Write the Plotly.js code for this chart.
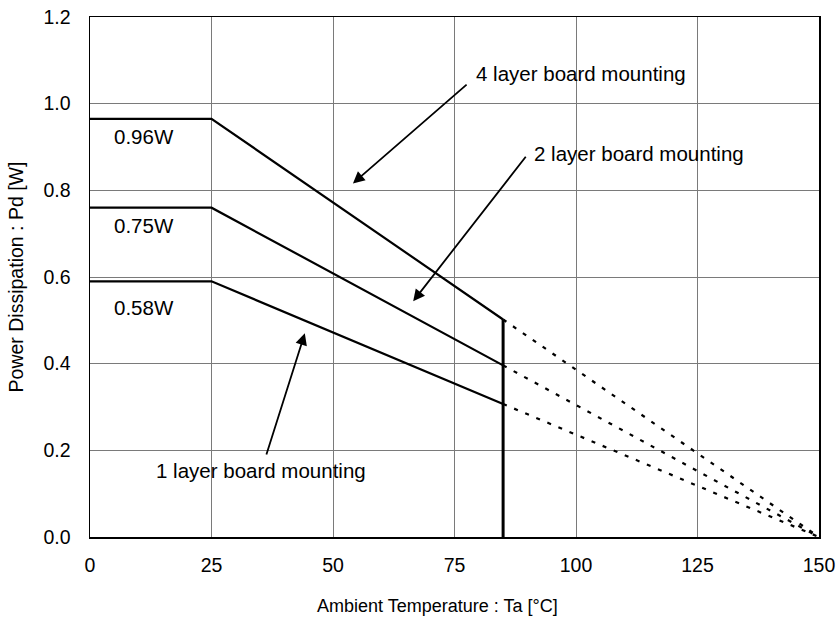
<!DOCTYPE html>
<html>
<head>
<meta charset="utf-8">
<script src="https://cdn.plot.ly/plotly-3.0.1.min.js"></script>
<style>html,body{margin:0;padding:0;background:#fff;}#chart{width:838px;height:618px;}</style>
</head>
<body>
<div id="chart"></div>
<script>
// Derating data (Ta in °C, Pd in W)
const tempSolid = [0, 25, 85];
const pd4Layer = [0.965, 0.965, 0.502];
const pd2Layer = [0.76, 0.76, 0.396];
const pd1Layer = [0.59, 0.59, 0.307];
const tempExt = [85, 150];
const pd4Ext = [0.502, 0];
const pd2Ext = [0.396, 0];
const pd1Ext = [0.307, 0];
const tempLimit = [85, 85];
const pdLimit = [0, 0.502];
const xTicks = [0, 25, 50, 75, 100, 125, 150];
const yTicks = [0, 0.2, 0.4, 0.6, 0.8, 1.0, 1.2];
const powerLabels = ["0.96W", "0.75W", "0.58W"];
const boardLabels = ["4 layer board mounting", "2 layer board mounting", "1 layer board mounting"];
const xTitle = 'Ambient Temperature : Ta [°C]';
const yTitle = 'Power Dissipation : Pd [W]';

const solid = {color: '#000', width: 2.2};
const dashed = {color: '#000', width: 2.2, dash: '4px,8px'};
const traces = [
  {x: tempSolid, y: pd4Layer, mode: 'lines', line: solid},
  {x: tempSolid, y: pd2Layer, mode: 'lines', line: solid},
  {x: tempSolid, y: pd1Layer, mode: 'lines', line: solid},
  {x: tempExt, y: pd4Ext, mode: 'lines', line: dashed},
  {x: tempExt, y: pd2Ext, mode: 'lines', line: dashed},
  {x: tempExt, y: pd1Ext, mode: 'lines', line: dashed},
  {x: tempLimit, y: pdLimit, mode: 'lines', line: {color: '#000', width: 3}}
];

const fam = '"Liberation Sans", Arial, sans-serif';
const annFont = {family: fam, size: 20.5, color: '#000'};
const tickFont = {family: fam, size: 19.5, color: '#000'};
const textAnn = (t, x, y) => ({text: t, x: x, y: y, xref: 'x', yref: 'y', showarrow: false, xanchor: 'left', yanchor: 'middle', font: annFont});
const arrowAnn = (x, y, ax, ay) => ({text: '', x: x, y: y, ax: ax, ay: ay, xref: 'x', yref: 'y', axref: 'x', ayref: 'y', showarrow: true, arrowhead: 2, arrowsize: 1.3, arrowwidth: 1.8, arrowcolor: '#000', standoff: 0, startstandoff: 0});

const annotations = [
  textAnn(powerLabels[0], 4.5, 0.925),
  textAnn(powerLabels[1], 4.5, 0.72),
  textAnn(powerLabels[2], 4.5, 0.53),
  textAnn(boardLabels[0], 79.0, 1.07),
  textAnn(boardLabels[1], 91.0, 0.885),
  textAnn(boardLabels[2], 13.2, 0.154),
  arrowAnn(54.1, 0.816, 77.8, 1.047),
  arrowAnn(66.5, 0.544, 89.9, 0.881),
  arrowAnn(44.2, 0.470, 36.2, 0.187),
  {text: xTitle, xref: 'paper', yref: 'paper', x: 0.476, y: -0.1327, xanchor: 'center', yanchor: 'middle', showarrow: false, font: {family: fam, size: 18, color: '#000'}}
];

const layout = {
  width: 838, height: 618,
  margin: {l: 90, r: 19, t: 17, b: 81},
  paper_bgcolor: '#fff', plot_bgcolor: '#fff',
  showlegend: false,
  font: tickFont,
  xaxis: {
    range: [0, 150], tickvals: xTicks, ticktext: xTicks.map(String),
    showgrid: true, gridcolor: '#7a7a7a', gridwidth: 1,
    showline: true, linecolor: '#000', linewidth: 1.5, mirror: true,
    ticks: 'outside', ticklen: 10, tickcolor: 'rgba(0,0,0,0)',
    zeroline: false, tickfont: tickFont, automargin: false
  },
  yaxis: {
    range: [0, 1.2], tickvals: yTicks, ticktext: yTicks.map(v => v.toFixed(1)),
    showgrid: true, gridcolor: '#7a7a7a', gridwidth: 1,
    showline: true, linecolor: '#000', linewidth: 1.5, mirror: true,
    ticks: 'outside', ticklen: 14, tickcolor: 'rgba(0,0,0,0)',
    zeroline: false, tickfont: tickFont, automargin: false,
    title: {text: yTitle, font: {family: fam, size: 19.5, color: '#000'}, standoff: 14}
  },
  annotations: annotations
};

Plotly.newPlot('chart', traces, layout, {displayModeBar: false, staticPlot: true});
</script>
</body>
</html>
